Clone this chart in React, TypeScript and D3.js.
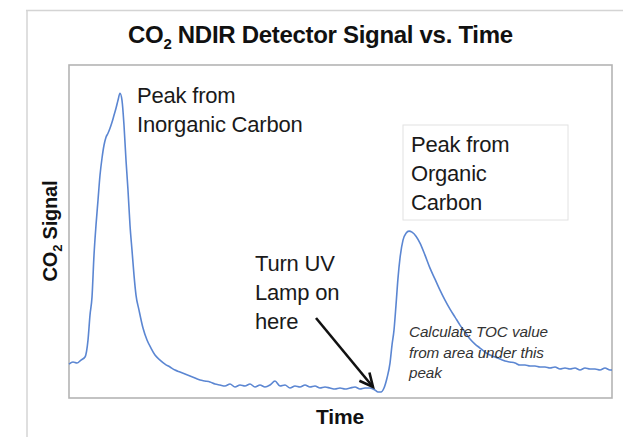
import React, { useEffect, useRef } from 'react';
import * as d3 from 'd3';

// Detector trace: time in seconds, signal in mV
const timeSec: number[] = [
  0, 8, 16, 24, 32, 38, 42, 46, 50, 54, 58, 62, 66, 70, 74, 78, 82, 86, 90, 94,
  98, 102, 106, 110, 114, 118, 122, 126, 130, 134, 140, 148, 156, 164, 172, 182, 192, 202, 212, 222,
  232, 242, 252, 262, 272, 282, 292, 302, 312, 322, 332, 342, 352, 362, 372, 382, 392, 402, 412, 422,
  432, 442, 452, 462, 472, 482, 492, 502, 512, 522, 532, 542, 552, 562, 572, 582, 592, 602, 612, 618,
  624, 630, 636, 642, 646, 650, 654, 658, 662, 668, 674, 680, 686, 694, 702, 712, 722, 732, 742, 752,
  762, 772, 782, 792, 802, 812, 822, 832, 842, 852, 862, 872, 882, 892, 902, 912, 922, 932, 942, 952,
  962, 972, 982, 992, 1002, 1012, 1022, 1032, 1042, 1052, 1062, 1072, 1082, 1086
];

const signalMv: number[] = [
  102, 108, 105, 114, 123, 174, 249, 303, 429, 519, 594, 669, 720, 759, 783, 795, 810, 828, 849, 870,
  894, 915, 894, 819, 714, 624, 519, 444, 369, 309, 264, 210, 174, 150, 129, 114, 102, 93, 84, 78,
  72, 66, 60, 54, 51, 48, 42, 39, 36, 42, 33, 39, 36, 42, 33, 39, 33, 39, 51, 36,
  39, 30, 36, 33, 39, 33, 36, 30, 33, 30, 27, 30, 27, 30, 33, 27, 30, 30, 24, 18,
  18, 30, 60, 105, 159, 204, 279, 360, 420, 474, 495, 501, 498, 486, 465, 429, 390, 357, 324, 294,
  267, 243, 219, 198, 177, 162, 150, 138, 129, 123, 117, 111, 108, 105, 99, 99, 96, 96, 93, 93,
  90, 93, 87, 90, 87, 90, 84, 90, 87, 87, 84, 90, 84, 84
];

const titleMain = 'NDIR Detector Signal vs. Time';
const yLabelRest = 'Signal';
const xLabel = 'Time';
const inorganicLines = ['Peak from', 'Inorganic Carbon'];
const organicLines = ['Peak from', 'Organic', 'Carbon'];
const lampLines = ['Turn UV', 'Lamp on', 'here'];
const tocLines = ['Calculate TOC value', 'from area under this', 'peak'];

const FONT = '"Liberation Sans", Arial, sans-serif';

const App: React.FC = () => {
  const svgRef = useRef<SVGSVGElement>(null);
  const width = 623;
  const height = 437;

  useEffect(() => {
    if (!svgRef.current) return;
    d3.select(svgRef.current).selectAll('*').remove();
    const svg = d3.select(svgRef.current);

    const plot = { left: 69, top: 65, right: 612, bottom: 398 };

    const x = d3.scaleLinear().domain([0, 1086]).range([plot.left, plot.right]);
    const y = d3.scaleLinear().domain([0, 1000]).range([plot.bottom, plot.top]);

    // outer frame lines
    svg.append('line')
      .attr('x1', 26).attr('y1', 10.5).attr('x2', width).attr('y2', 10.5)
      .attr('stroke', '#d4d4d4').attr('stroke-width', 1.5);
    svg.append('line')
      .attr('x1', 27).attr('y1', 10).attr('x2', 27).attr('y2', height)
      .attr('stroke', '#d4d4d4').attr('stroke-width', 1.5);

    // title
    const title = svg.append('text')
      .attr('x', 128).attr('y', 43)
      .attr('font-family', FONT).attr('font-size', '24px').attr('font-weight', 'bold')
      .attr('letter-spacing', '-0.3px')
      .attr('fill', '#111');
    title.append('tspan').text('CO');
    title.append('tspan').attr('font-size', '15px').attr('dy', 6).text('2');
    title.append('tspan').attr('dy', -6).text(' ' + titleMain);

    // plot frame
    svg.append('rect')
      .attr('x', plot.left).attr('y', plot.top)
      .attr('width', plot.right - plot.left).attr('height', plot.bottom - plot.top)
      .attr('fill', 'none').attr('stroke', '#b4b4b4').attr('stroke-width', 1.6);

    // trace
    const pts: [number, number][] = timeSec.map((t, i) => [t, signalMv[i]]);
    const line = d3.line<[number, number]>()
      .x(d => x(d[0]))
      .y(d => y(d[1]))
      .curve(d3.curveMonotoneX);
    svg.append('path')
      .datum(pts)
      .attr('d', line)
      .attr('fill', 'none')
      .attr('stroke', '#5b86d2')
      .attr('stroke-width', 1.6)
      .attr('stroke-linejoin', 'round');

    // axis labels
    svg.append('text')
      .attr('x', 340).attr('y', 424)
      .attr('text-anchor', 'middle')
      .attr('font-family', FONT).attr('font-size', '21px').attr('font-weight', 'bold')
      .attr('letter-spacing', '-0.2px')
      .attr('fill', '#111')
      .text(xLabel);

    const yl = svg.append('text')
      .attr('transform', 'translate(57,231) rotate(-90)')
      .attr('text-anchor', 'middle')
      .attr('font-family', FONT).attr('font-size', '20px').attr('font-weight', 'bold')
      .attr('letter-spacing', '-0.2px')
      .attr('fill', '#111');
    yl.append('tspan').text('CO');
    yl.append('tspan').attr('font-size', '13px').attr('dy', 5).text('2');
    yl.append('tspan').attr('dy', -5).text(' ' + yLabelRest);

    const addLines = (lines: string[], x0: number, y0: number, step: number, size: number, italic = false, color = '#1a1a1a') => {
      lines.forEach((s, i) => {
        svg.append('text')
          .attr('x', x0).attr('y', y0 + i * step)
          .attr('font-family', FONT).attr('font-size', `${size}px`)
          .attr('font-style', italic ? 'italic' : 'normal')
          .attr('letter-spacing', italic ? '-0.1px' : '-0.2px')
          .attr('fill', color)
          .text(s);
      });
    };

    addLines(inorganicLines, 137, 103, 29, 22);

    // box around organic label
    svg.append('rect')
      .attr('x', 403).attr('y', 125).attr('width', 165).attr('height', 95)
      .attr('fill', '#fff').attr('stroke', '#e2e2e2').attr('stroke-width', 1);
    addLines(organicLines, 411, 152, 29, 22);

    addLines(lampLines, 255, 271, 29, 22);
    addLines(tocLines, 409, 337, 20.5, 15.3, true, '#333');

    // arrow to lamp-on point
    const tipX = x(612) - 2;
    const tipY = y(24) - 3;
    const sx = 316, sy = 318;
    svg.append('line')
      .attr('x1', sx).attr('y1', sy).attr('x2', tipX).attr('y2', tipY)
      .attr('stroke', '#111').attr('stroke-width', 2.6);
    const ang = Math.atan2(tipY - sy, tipX - sx);
    const headLen = 15;
    const spread = 0.45;
    const hp = [ang + Math.PI - spread, ang + Math.PI + spread].map(a => [tipX + headLen * Math.cos(a), tipY + headLen * Math.sin(a)]);
    svg.append('path')
      .attr('d', `M${hp[0][0]},${hp[0][1]} L${tipX},${tipY} L${hp[1][0]},${hp[1][1]}`)
      .attr('fill', 'none').attr('stroke', '#111').attr('stroke-width', 2.6)
      .attr('stroke-linejoin', 'miter');
  }, []);

  return (
    <div style={{ position: 'absolute', left: 0, top: 0, background: '#fff' }}>
      <svg ref={svgRef} width={width} height={height} style={{ display: 'block' }} />
    </div>
  );
};

export default App;
